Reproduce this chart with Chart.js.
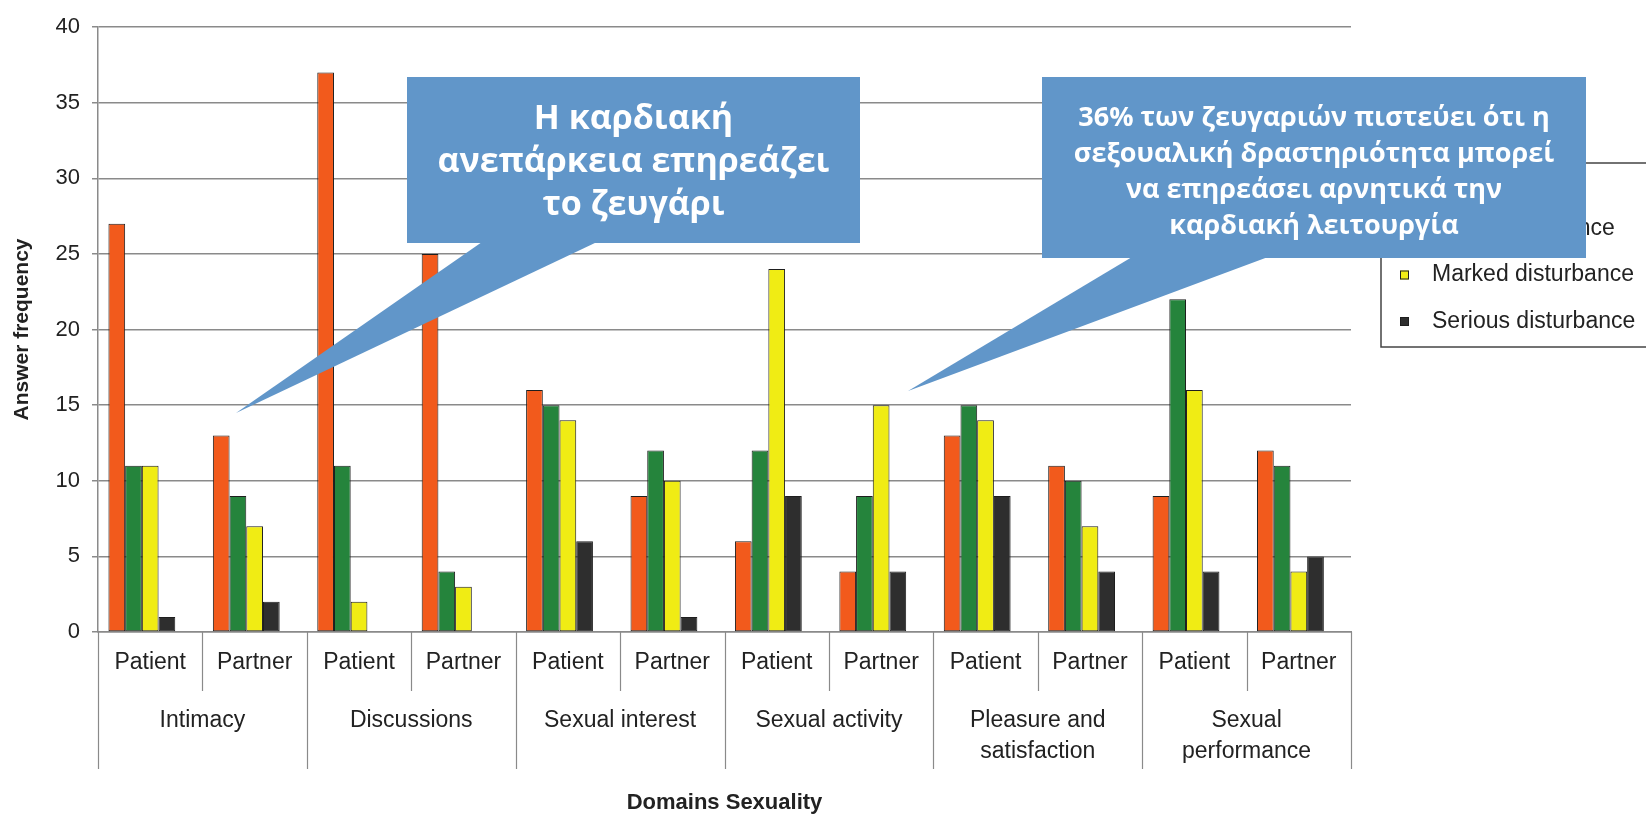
<!DOCTYPE html>
<html>
<head>
<meta charset="utf-8">
<script src="https://cdn.jsdelivr.net/npm/chart.js@4.4.1/dist/chart.umd.min.js"></script>
<style>
  html, body { margin: 0; padding: 0; background: #fff; }
  #wrap { width: 1646px; height: 814px; position: relative; }
</style>
</head>
<body>
<div id="wrap"><canvas id="chart"></canvas></div>
<script>
// sub categories on the x axis, and the domains they belong to
const subLabels = ['Patient', 'Partner', 'Patient', 'Partner', 'Patient', 'Partner',
                   'Patient', 'Partner', 'Patient', 'Partner', 'Patient', 'Partner'];
const domains = [['Intimacy'], ['Discussions'], ['Sexual interest'], ['Sexual activity'],
                 ['Pleasure and', 'satisfaction'], ['Sexual', 'performance']];

const seriesNames = ['No disturbance', 'Slight disturbance', 'Marked disturbance', 'Serious disturbance'];
const seriesColors = ['#f25a1c', '#25843c', '#f0ec14', '#2e2e2e'];

const noDisturbance      = [27, 13, 37, 25, 16, 9, 6, 4, 13, 11, 9, 12];
const slightDisturbance  = [11, 9, 11, 4, 15, 12, 12, 9, 15, 10, 22, 11];
const markedDisturbance  = [11, 7, 2, 3, 14, 10, 24, 15, 14, 7, 16, 4];
const seriousDisturbance = [1, 2, 0, 0, 6, 1, 9, 4, 9, 4, 4, 5];

const yTicks = [0, 5, 10, 15, 20, 25, 30, 35, 40];

const callouts = [
  { lines: ['Η καρδιακή', 'ανεπάρκεια επηρεάζει', 'το ζευγάρι'], size: 34 },
  { lines: ['36% των ζευγαριών πιστεύει ότι η', 'σεξουαλική δραστηριότητα μπορεί',
            'να επηρεάσει αρνητικά την', 'καρδιακή λειτουργία'], size: 27 }
];

const gray = '#8a8a8a';
const textColor = '#222';
const blue = '#6196c9';

const allSeries = [noDisturbance, slightDisturbance, markedDisturbance, seriousDisturbance];
const datasets = allSeries.map((d, i) => ({
  label: seriesNames[i],
  data: d,
  backgroundColor: seriesColors[i],
  borderColor: '#1e1e1e',
  borderWidth: 1,
  borderSkipped: false,
  categoryPercentage: 0.8,
  barPercentage: 1
}));
// empty slot so the bar group sits left of centre like the original
datasets.push({ label: '', data: subLabels.map(() => null), categoryPercentage: 0.8, barPercentage: 1 });

const extras = {
  id: 'extras',
  afterDraw(chart) {
    const ctx = chart.ctx;
    const x = chart.scales.x;
    const area = chart.chartArea;
    const base = area.bottom;
    ctx.save();

    // separators under the axis
    ctx.strokeStyle = gray;
    ctx.lineWidth = 1.2;
    for (let j = 0; j <= subLabels.length; j++) {
      let px;
      if (j === 0) px = area.left;
      else if (j === subLabels.length) px = area.right;
      else px = (x.getPixelForValue(j - 1) + x.getPixelForValue(j)) / 2;
      const len = j % 2 === 0 ? 137 : 59;
      ctx.beginPath();
      ctx.moveTo(Math.round(px) + 0.5, base);
      ctx.lineTo(Math.round(px) + 0.5, base + len);
      ctx.stroke();
    }

    // domain labels
    ctx.fillStyle = textColor;
    ctx.font = '23px "Liberation Sans", Arial, sans-serif';
    ctx.textAlign = 'center';
    ctx.textBaseline = 'middle';
    domains.forEach((lines, i) => {
      const cx = (x.getPixelForValue(2 * i) + x.getPixelForValue(2 * i + 1)) / 2;
      lines.forEach((t, k) => ctx.fillText(t, cx, base + 89 + k * 31));
    });

    // legend box
    ctx.strokeStyle = '#444';
    ctx.lineWidth = 1.5;
    ctx.strokeRect(1381, 163, 300, 184);
    ctx.textAlign = 'left';
    seriesNames.forEach((name, i) => {
      const cy = 182 + i * 46.5;
      ctx.fillStyle = seriesColors[i];
      ctx.fillRect(1400, cy - 4.5, 9, 9);
      ctx.strokeStyle = '#1e1e1e';
      ctx.lineWidth = 1;
      ctx.strokeRect(1400.5, cy - 4, 8, 8);
      ctx.fillStyle = textColor;
      ctx.fillText(name, 1432, cy);
    });

    // callouts
    const boxes = [
      { x0: 407, y0: 77, x1: 860, y1: 243, b0: 482, b1: 597, tip: [236, 413], ty: 119, gap: 43 },
      { x0: 1042, y0: 77, x1: 1586, y1: 258, b0: 1132, b1: 1268, tip: [908, 391], ty: 118, gap: 36 }
    ];
    boxes.forEach((b, i) => {
      ctx.fillStyle = blue;
      ctx.fillRect(b.x0, b.y0, b.x1 - b.x0, b.y1 - b.y0);
      ctx.beginPath();
      ctx.moveTo(b.b0, b.y1 - 1);
      ctx.lineTo(b.tip[0], b.tip[1]);
      ctx.lineTo(b.b1, b.y1 - 1);
      ctx.closePath();
      ctx.fill();
      ctx.fillStyle = '#fff';
      ctx.textAlign = 'center';
      ctx.font = 'bold ' + callouts[i].size + 'px "Open Sans", "Noto Sans", sans-serif';
      const cx = (b.x0 + b.x1) / 2;
      callouts[i].lines.forEach((t, k) => ctx.fillText(t, cx, b.ty + k * b.gap));
    });
    ctx.restore();
  }
};

new Chart(document.getElementById('chart'), {
  type: 'bar',
  data: { labels: subLabels, datasets: datasets },
  options: {
    responsive: true,
    maintainAspectRatio: false,
    animation: false,
    layout: { padding: { top: 27, right: 295, left: 0, bottom: 0 } },
    plugins: { legend: { display: false }, tooltip: { enabled: false } },
    scales: {
      x: {
        grid: { display: false, drawTicks: false },
        border: { display: true, color: gray, width: 1.5 },
        ticks: { color: textColor, padding: 17, font: { family: '"Liberation Sans", Arial, sans-serif', size: 23 } },
        title: {
          display: true, text: 'Domains Sexuality', color: textColor,
          font: { family: '"Liberation Sans", Arial, sans-serif', size: 22, weight: 'bold', lineHeight: 1 },
          padding: { top: 0, bottom: 0 }
        },
        afterFit(scale) { scale.height = 182; }
      },
      y: {
        min: 0, max: 40,
        afterBuildTicks(scale) { scale.ticks = yTicks.map(v => ({ value: v })); },
        grid: { color: gray, lineWidth: 1.5, tickLength: 6 },
        border: { display: true, color: gray, width: 1.5 },
        ticks: { color: textColor, padding: 12, font: { family: '"Liberation Sans", Arial, sans-serif', size: 22 } },
        title: {
          display: true, text: 'Answer frequency', color: textColor,
          font: { family: '"Liberation Sans", Arial, sans-serif', size: 21, weight: 'bold', lineHeight: 1 },
          padding: { top: 12, bottom: 0 }
        },
        afterFit(scale) { scale.width = 98; }
      }
    }
  },
  plugins: [extras]
});
</script>
</body>
</html>
